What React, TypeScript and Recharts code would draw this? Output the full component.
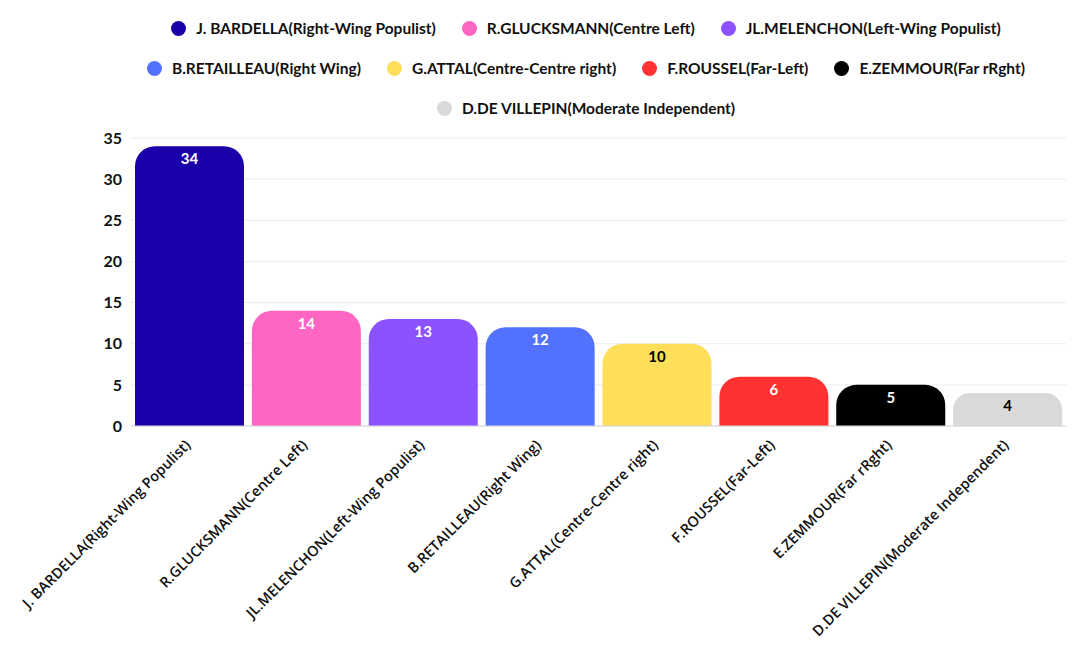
import { Bar, BarChart, CartesianGrid, Cell, LabelList, Legend, XAxis, YAxis } from "recharts";

const candidates = [
  "J. BARDELLA(Right-Wing Populist)",
  "R.GLUCKSMANN(Centre Left)",
  "JL.MELENCHON(Left-Wing Populist)",
  "B.RETAILLEAU(Right Wing)",
  "G.ATTAL(Centre-Centre right)",
  "F.ROUSSEL(Far-Left)",
  "E.ZEMMOUR(Far rRght)",
  "D.DE VILLEPIN(Moderate Independent)",
];
const votes = [34, 14, 13, 12, 10, 6, 5, 4];
const colors = ["#1a00a8", "#ff66c4", "#8c52ff", "#5271ff", "#ffde59", "#ff3131", "#000000", "#d9d9d9"];
const labelInk = ["#fff", "#fff", "#fff", "#fff", "#000", "#fff", "#fff", "#000"];
const yTicks = [0, 5, 10, 15, 20, 25, 30, 35];
const legendRows = [3, 4, 1]; // items per legend line

const data = candidates.map((name, i) => ({ name, votes: votes[i] }));

const roundFont = "Lato, 'Noto Sans', sans-serif";

function LegendBox() {
  let start = 0;
  const rows = legendRows.map((n) => {
    const idx = candidates.slice(start, start + n).map((_, k) => start + k);
    start += n;
    return idx;
  });
  return (
    <div style={{ height: 128, boxSizing: "border-box", paddingTop: 8, paddingLeft: 92, fontFamily: roundFont }}>
      {rows.map((row, r) => (
        <div key={r} style={{ height: 40, display: "flex", justifyContent: "center", alignItems: "center" }}>
          {row.map((i) => (
            <span key={i} style={{ display: "inline-flex", alignItems: "center", margin: "0 13px" }}>
              <span style={{ width: 15, height: 15, borderRadius: "50%", background: colors[i], marginRight: 10 }} />
              <span style={{ fontSize: 15.5, fontWeight: 700, color: "#111" }}>{candidates[i]}</span>
            </span>
          ))}
        </div>
      ))}
    </div>
  );
}

function SlantTick({ x, y, payload }: any) {
  return (
    <g transform={`translate(${x + 2},${y + 12})`}>
      <text
        x={0}
        y={0}
        textAnchor="end"
        transform="rotate(-45)"
        fontFamily="'Open Sans', sans-serif"
        fontWeight={600}
        fontSize={14.5}
        fill="#111"
      >
        {payload.value}
      </text>
    </g>
  );
}

function ValueLabel({ x, y, width, value, index }: any) {
  return (
    <text
      x={x + width / 2}
      y={y + 18}
      textAnchor="middle"
      fontFamily={roundFont}
      fontWeight={700}
      fontSize={15}
      fill={labelInk[index]}
    >
      {value}
    </text>
  );
}

export default function App() {
  return (
    <div style={{ position: "absolute", left: 0, top: 0, background: "#fff" }}>
      <BarChart width={1080} height={658} data={data} margin={{ top: 10, right: 14, bottom: 12, left: 81 }} barCategoryGap={4}>
        <Legend verticalAlign="top" content={() => <LegendBox />} wrapperStyle={{ left: 0, top: 0, width: 1080 }} />
        <CartesianGrid vertical={false} stroke="#ebebeb" />
        <XAxis
          dataKey="name"
          interval={0}
          height={220}
          tick={<SlantTick />}
          tickLine={false}
          axisLine={{ stroke: "#d6d6d6" }}
        />
        <YAxis
          width={50}
          domain={[0, 35]}
          ticks={yTicks}
          axisLine={false}
          tickLine={false}
          tickSize={0}
          tickMargin={9}
          tick={{ fontFamily: roundFont, fontWeight: 700, fontSize: 16, fill: "#111" }}
        />
        <Bar dataKey="votes" radius={[20, 20, 0, 0]} isAnimationActive={false}>
          {data.map((_, i) => (
            <Cell key={i} fill={colors[i]} />
          ))}
          <LabelList dataKey="votes" content={<ValueLabel />} />
        </Bar>
      </BarChart>
    </div>
  );
}
